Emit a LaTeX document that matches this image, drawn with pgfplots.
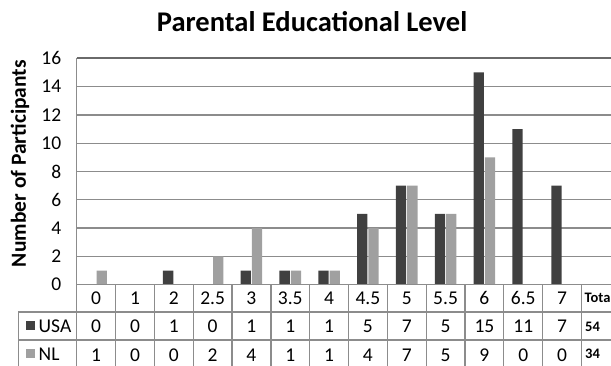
\documentclass[border=0pt]{standalone}
\usepackage{fontspec}
\setmainfont{Carlito}
\usepackage{pgfplots}
\pgfplotsset{compat=1.18}
\definecolor{usa}{HTML}{404040}
\definecolor{nl}{HTML}{A0A0A0}
\definecolor{gridc}{HTML}{8C8C8C}
\definecolor{topc}{HTML}{6A6A6A}
\begin{document}
\begin{tikzpicture}[x=1pt,y=-1pt]
\clip (0,0) rectangle (611,366);
\path[use as bounding box] (0,0) rectangle (611,366);
\begin{axis}[
  at={(76.7pt,-284.7pt)}, anchor=south west,
  scale only axis, width=543.6pt, height=226.4pt,
  xmin=-0.5, xmax=13.5, ymin=0, ymax=16,
  ytick={0,2,...,16}, xtick=\empty,
  ymajorgrids, grid style={gridc, line width=1.3pt},
  axis x line=none, axis y line*=left,
  axis line style={gridc, line width=1.3pt, -},
  major tick length=0pt,
  /pgf/number format/assume math mode=true,
  yticklabel style={font=\fontsize{19.5}{19.5}\selectfont, anchor=east, xshift=-12pt},
  ylabel={Number of Participants},
  ylabel style={font=\fontsize{21.5}{21.5}\selectfont\bfseries, at={(axis description cs:-0.1043,0.535)}, anchor=center},
  title={Parental Educational Level},
  title style={font=\fontsize{28.5}{28.5}\selectfont\bfseries, at={(axis description cs:0.433,1.135)}, anchor=center},
  ybar=1pt, bar width=0.265,
  clip=false,
]
\addplot[fill=usa, draw=none] coordinates {(0,0) (1,0) (2,1) (3,0) (4,1) (5,1) (6,1) (7,5) (8,7) (9,5) (10,15) (11,11) (12,7)};
\addplot[fill=nl, draw=none] coordinates {(0,1) (1,0) (2,0) (3,2) (4,4) (5,1) (6,1) (7,4) (8,7) (9,5) (10,9) (11,0) (12,0)};
\draw[topc, line width=1.6pt] (axis cs:-0.5,16) -- (axis cs:13.5,16);
\end{axis}
% data table
\begin{scope}[gridc, line width=1.3pt]
\draw (76.7,284.7) -- (611,284.7);
\draw (18.3,312) -- (611,312);
\draw (18.3,340) -- (611,340);
\draw (18.3,312) -- (18.3,366);
\foreach \k in {0,...,14} {\draw ({76.7+38.83*\k},284.7) -- ({76.7+38.83*\k},366);}
\end{scope}
\foreach \c [count=\i from 0] in {0,1,2,2.5,3,3.5,4,4.5,5,5.5,6,6.5,7}
  {\node[font=\fontsize{19.5}{19.5}\selectfont, anchor=base] at ({76.7+38.83*(\i+0.5)},305) {\c};}
\foreach \c [count=\i from 0] in {0,0,1,0,1,1,1,5,7,5,15,11,7}
  {\node[font=\fontsize{19.5}{19.5}\selectfont, anchor=base] at ({76.7+38.83*(\i+0.5)},333) {\c};}
\foreach \c [count=\i from 0] in {1,0,0,2,4,1,1,4,7,5,9,0,0}
  {\node[font=\fontsize{19.5}{19.5}\selectfont, anchor=base] at ({76.7+38.83*(\i+0.5)},361) {\c};}
\node[font=\fontsize{14.5}{14.5}\selectfont\bfseries, anchor=base west, inner sep=0pt] at (584.5,303) {Total};
\node[font=\fontsize{14.5}{14.5}\selectfont\bfseries, anchor=base west, inner sep=0pt] at (585,331) {54};
\node[font=\fontsize{14.5}{14.5}\selectfont\bfseries, anchor=base west, inner sep=0pt] at (585,359) {34};
\fill[usa] (26,321) rectangle (34.5,330);
\fill[nl] (26,349) rectangle (34.5,358);
\node[font=\fontsize{19.5}{19.5}\selectfont, anchor=base west, inner sep=0pt] at (38.5,332.5) {USA};
\node[font=\fontsize{19.5}{19.5}\selectfont, anchor=base west, inner sep=0pt] at (38.5,360.5) {NL};
\end{tikzpicture}
\end{document}
